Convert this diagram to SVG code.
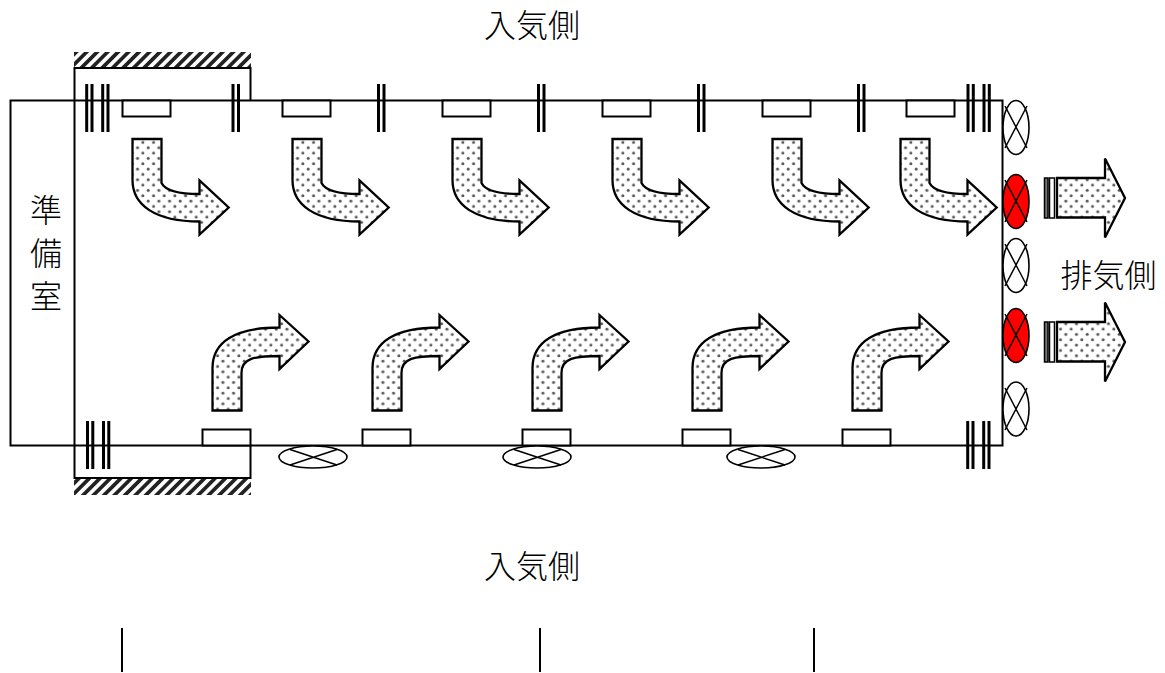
<svg xmlns="http://www.w3.org/2000/svg" width="1165" height="673" viewBox="0 0 1165 673">
<style>
.ln{fill:none;stroke:#000;stroke-width:2}
.box{fill:#fff;stroke:#000;stroke-width:2}
.arr{fill:url(#dots);stroke:#000;stroke-width:2.3;stroke-linejoin:miter}
.tick{stroke:#000;stroke-width:3;fill:none}
.thin{stroke:#000;stroke-width:1.5;fill:none}
.fan{fill:#fff;stroke:#000;stroke-width:1.6}
.hatch{fill:url(#hatch)}
.t{font-family:"Noto Sans CJK JP","Noto Sans CJK SC",sans-serif;font-size:32px;font-weight:300;fill:#000;text-anchor:middle}
</style>
<defs>
<pattern id="dots" width="10.67" height="10.67" patternUnits="userSpaceOnUse" x="1.5" y="1">
<rect width="10.67" height="10.67" fill="#fff"/>
<circle cx="2.67" cy="2.67" r="1.5" fill="#555"/>
<circle cx="8" cy="8" r="1.5" fill="#555"/>
</pattern>
<pattern id="hatch" width="7.4" height="7.4" patternUnits="userSpaceOnUse" patternTransform="rotate(45)">
<rect width="3.7" height="7.4" fill="#222"/>
</pattern>
<path id="down" class="arr" d="M132.500 139H161.500V183C165 190 178 194 199.500 194V180.500L228.700 207.500L199.500 234.500V221.500C155 221.500 132.500 205 132.500 180Z"/>
<path id="up" class="arr" d="M212.500 410.500V368C212.500 342 235 327.500 279.500 327.500V315L308.500 341.500L279.500 369V356C255 356 241.500 358 241.500 373V410.500Z"/>
<g id="vx"><path class="thin" d="M1005 106L1027 148M1027 106L1005 148"/></g>
<g id="hx"><path class="thin" d="M290 449.500L337 465M337 449.500L290 465"/></g>
<g id="dbl"><path class="tick" d="M0 84V132M5.500 84V132"/></g>
<g id="quad"><path class="tick" d="M0 0V48M5.300 0V48M16 0V48M21.300 0V48"/></g>
<g id="exh">
<rect x="1044.500" y="178" width="3.500" height="40" fill="#777" stroke="#000" stroke-width="1.500"/>
<rect x="1049.500" y="178" width="5" height="40" fill="#fff" stroke="#000" stroke-width="1.500"/>
<path class="arr" d="M1057 178H1105V158.500L1125 198L1105 237.500V217.500H1057Z"/>
</g>
</defs>

<g id="walls">
<rect class="hatch" x="74" y="52" width="177" height="16"/>
<rect class="hatch" x="74" y="478" width="177" height="17"/>
<path class="ln" d="M74.500 100V68H250.500V100"/>
<path class="ln" d="M74.500 100V478H250.500V445"/>
<rect class="ln" x="10.500" y="100.500" width="992" height="345"/>
</g>

<g id="connectors">
<use href="#dbl" x="233"/><use href="#dbl" x="378.500"/><use href="#dbl" x="538.500"/><use href="#dbl" x="698.500"/><use href="#dbl" x="858.500"/>
<use href="#quad" x="86.700" y="84"/><use href="#quad" x="968" y="84"/>
<use href="#quad" x="87.500" y="421"/><use href="#quad" x="967.700" y="421"/>
<path class="ln" d="M122 628V672M540 628V672M814 628V672"/>
</g>

<g id="inlets-top">
<rect class="box" x="122.500" y="100.500" width="48" height="16"/>
<rect class="box" x="282.500" y="100.500" width="48" height="16"/>
<rect class="box" x="442.500" y="100.500" width="48" height="16"/>
<rect class="box" x="602.500" y="100.500" width="48" height="16"/>
<rect class="box" x="762.500" y="100.500" width="48" height="16"/>
<rect class="box" x="906.500" y="100.500" width="48" height="16"/>
</g>
<g id="inlets-bottom">
<rect class="box" x="202.500" y="429.500" width="48" height="16"/>
<rect class="box" x="362.500" y="429.500" width="48" height="16"/>
<rect class="box" x="522.500" y="429.500" width="48" height="16"/>
<rect class="box" x="682.500" y="429.500" width="48" height="16"/>
<rect class="box" x="842.500" y="429.500" width="48" height="16"/>
</g>

<g id="flow-top">
<use href="#down"/><use href="#down" x="160"/><use href="#down" x="320"/><use href="#down" x="480"/><use href="#down" x="640"/><use href="#down" x="768"/>
</g>
<g id="flow-bottom">
<use href="#up"/><use href="#up" x="160"/><use href="#up" x="320"/><use href="#up" x="480"/><use href="#up" x="640"/>
</g>

<g id="fans-right">
<ellipse class="fan" cx="1016" cy="127.500" rx="13" ry="27"/><use href="#vx"/>
<ellipse class="fan" cx="1016" cy="201.500" rx="13" ry="27" style="fill:#f00"/><use href="#vx" y="74"/>
<ellipse class="fan" cx="1016" cy="265.500" rx="13" ry="27"/><use href="#vx" y="138"/>
<ellipse class="fan" cx="1016" cy="335.500" rx="13" ry="27" style="fill:#f00"/><use href="#vx" y="208"/>
<ellipse class="fan" cx="1016" cy="409" rx="13" ry="27"/><use href="#vx" y="282"/>
</g>
<g id="fans-bottom">
<ellipse class="fan" cx="313" cy="457" rx="34" ry="11"/><use href="#hx"/>
<ellipse class="fan" cx="537" cy="457" rx="34" ry="11"/><use href="#hx" x="224"/>
<ellipse class="fan" cx="761" cy="457" rx="34" ry="11"/><use href="#hx" x="448"/>
</g>
<g id="exhaust-1"><use href="#exh"/></g>
<g id="exhaust-2"><use href="#exh" y="144"/></g>

<g id="labels">
<text class="t" x="532" y="37">入気側</text>
<text class="t" x="532" y="578">入気側</text>
<text class="t" x="1108.500" y="287">排気側</text>
<text class="t" x="46" y="222">準</text>
<text class="t" x="46" y="265">備</text>
<text class="t" x="46" y="308">室</text>
</g>
</svg>
